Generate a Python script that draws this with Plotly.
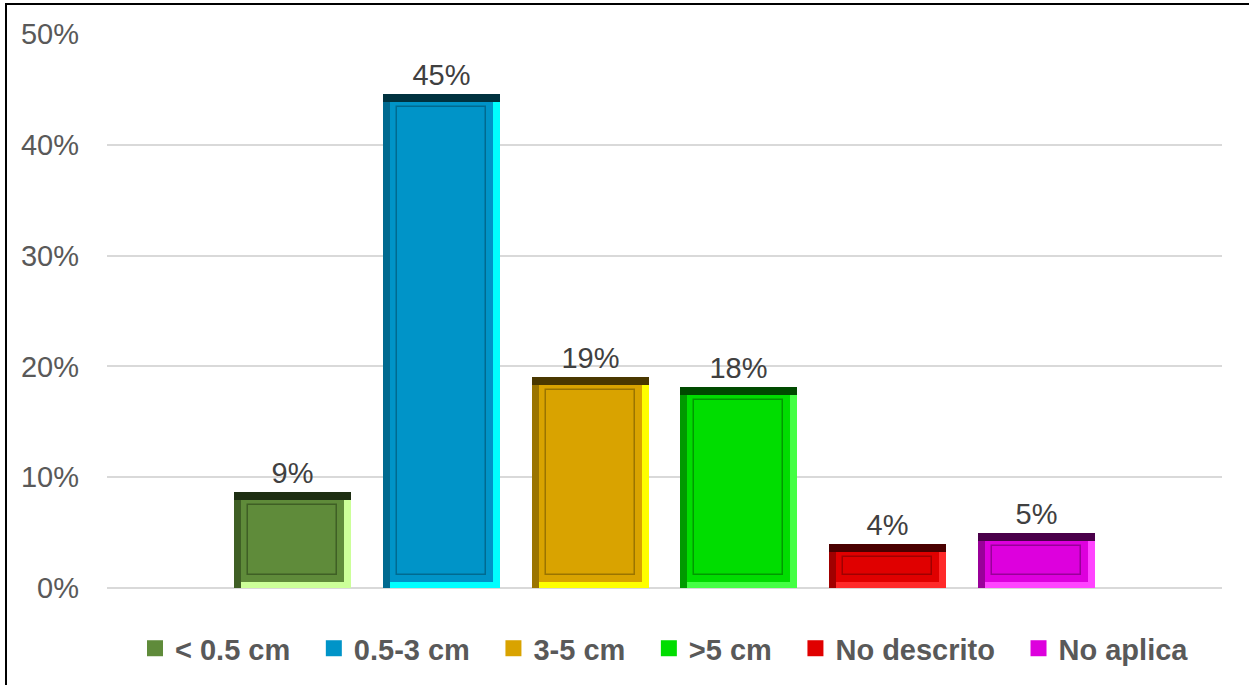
import plotly.graph_objects as go

# ---- data ----
categories = ["< 0.5 cm", "0.5-3 cm", "3-5 cm", ">5 cm", "No descrito", "No aplica"]
values = [0.087, 0.446, 0.190, 0.181, 0.040, 0.050]
base_colors = ["#5F8B3A", "#0094C8", "#D9A300", "#00DD00", "#E00000", "#DD00DD"]
light_colors = ["#CCFF99", "#00FFFF", "#FFFF00", "#44FF44", "#FF2A2A", "#FF44FF"]
dark_colors = ["#3F5F25", "#006A90", "#9A7400", "#009A00", "#A00000", "#990099"]
top_colors = ["#1E2E12", "#00323F", "#4A3800", "#004A00", "#4A0000", "#4A004A"]
y_ticks = [0, 0.1, 0.2, 0.3, 0.4, 0.5]

W, H = 1249, 685
ML, MR, MT, MB = 107, 27, 34, 96
X_RANGE = [-1.25, len(categories) - 1 + 1.25]
Y_RANGE = [0, 0.5]
px_x = (W - ML - MR) / (X_RANGE[1] - X_RANGE[0])
px_y = (H - MT - MB) / (Y_RANGE[1] - Y_RANGE[0])

BAR_W = 117 / px_x
SIDE = 7 / px_x
TOPB = 8 / px_y
BOTB = 6 / px_y
IN_X = 14 / px_x
IN_Y = 13 / px_y

FONT = "Arial, Liberation Sans, sans-serif"
PAD = "\u00a0\u00a0\u200a"  # spacing after legend entries

fig = go.Figure()
for i, (cat, v) in enumerate(zip(categories, values)):
    # main bar with label
    fig.add_trace(go.Bar(
        x=[i], y=[v], width=BAR_W, name=cat, showlegend=False,
        marker=dict(color=base_colors[i], line=dict(width=0)),
        texttemplate="%{y:.0%}", textposition="outside",
        textfont=dict(family=FONT, size=29, color="#404040"),
        cliponaxis=False, legendgroup=cat, hoverinfo="skip",
    ))
    bevel = dict(showlegend=False, legendgroup=cat, hoverinfo="skip",
                 textposition="none")
    # bottom band (light)
    fig.add_trace(go.Bar(x=[i], y=[BOTB], base=[0], width=BAR_W,
                         marker=dict(color=light_colors[i], line=dict(width=0)), **bevel))
    # right band (light)
    fig.add_trace(go.Bar(x=[i], y=[v], base=[0], width=SIDE, offset=BAR_W / 2 - SIDE,
                         marker=dict(color=light_colors[i], line=dict(width=0)), **bevel))
    # left band (dark)
    fig.add_trace(go.Bar(x=[i], y=[v], base=[0], width=SIDE, offset=-BAR_W / 2,
                         marker=dict(color=dark_colors[i], line=dict(width=0)), **bevel))
    # top band (very dark)
    fig.add_trace(go.Bar(x=[i], y=[TOPB], base=[v - TOPB], width=BAR_W,
                         marker=dict(color=top_colors[i], line=dict(width=0)), **bevel))
    # inner ridge frame
    fig.add_trace(go.Bar(x=[i], y=[max(v - 2 * IN_Y, 0)], base=[IN_Y],
                         width=BAR_W - 2 * IN_X,
                         marker=dict(color="rgba(0,0,0,0)",
                                     line=dict(width=1.5, color=dark_colors[i])), **bevel))

# legend entries (square swatches)
for i, cat in enumerate(categories):
    label = cat + (PAD if i < len(categories) - 1 else "")
    fig.add_trace(go.Scatter(
        x=[None], y=[None], mode="markers", name=label, legendgroup=cat,
        marker=dict(symbol="square", size=16, color=base_colors[i],
                    line=dict(width=0)),
        hoverinfo="skip",
    ))

fig.update_layout(
    width=W, height=H,
    margin=dict(l=ML, r=MR, t=MT, b=MB),
    paper_bgcolor="white", plot_bgcolor="white",
    barmode="overlay", bargap=0,
    showlegend=True,
    legend=dict(
        orientation="h", x=0.5, xanchor="center", y=-0.107, yanchor="middle",
        font=dict(family=FONT, size=29, color="#595959", weight="bold"),
        itemclick=False, itemdoubleclick=False,
    ),
    xaxis=dict(range=X_RANGE, showticklabels=False, showgrid=False,
               zeroline=False, showline=False, ticks=""),
    yaxis=dict(range=Y_RANGE, tickvals=y_ticks, tickformat=".0%",
               showgrid=True, gridcolor="#D9D9D9", gridwidth=1.5,
               zeroline=True, zerolinecolor="#D9D9D9", zerolinewidth=1.5,
               showline=False, ticks="", ticklabelstandoff=27,
               tickfont=dict(family=FONT, size=29, color="#595959")),
    shapes=[dict(
        type="rect", xref="paper", yref="paper",
        xsizemode="pixel", ysizemode="pixel", xanchor=0, yanchor=1,
        x0=-101, x1=1300, y0=30, y1=-800,
        line=dict(color="black", width=2), fillcolor="rgba(0,0,0,0)", layer="above",
    )],
)

fig.write_html("out.html", config={"displayModeBar": False},
               post_script="document.body.style.margin='0px';")
